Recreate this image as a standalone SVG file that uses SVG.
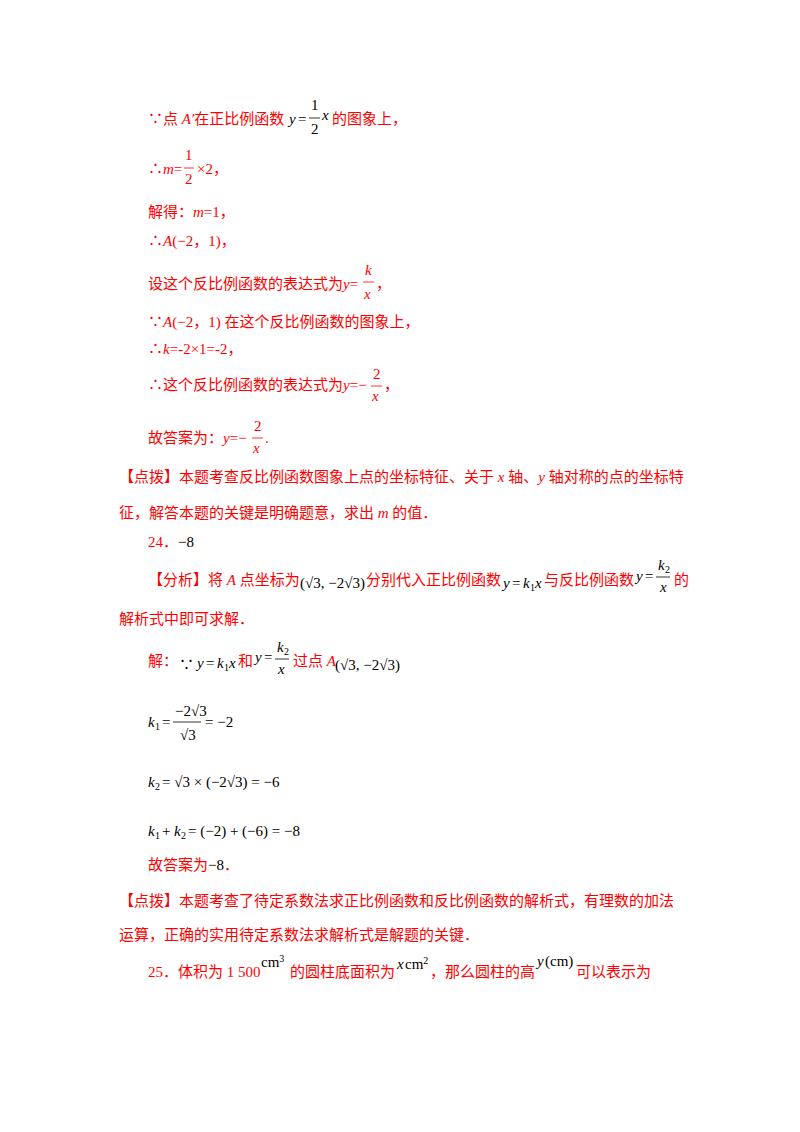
<svg xmlns="http://www.w3.org/2000/svg" width="800" height="1132" viewBox="0 0 800 1132">
<style>
text{font-family:"Liberation Serif","Noto Sans CJK SC",serif;font-size:15px}
.r{fill:#ff0000}
.k{fill:#000}
.i{font-style:italic}
.s{font-size:10px}
line{stroke:#000;stroke-width:0.8}
.rl{stroke:#ff0000}
</style>
<rect width="800" height="1132" fill="#fff"/>
<text class="r" x="148" y="124">∵点 <tspan class="i">A′</tspan>在正比例函数</text>
<text class="k i" x="289" y="124">y</text><text class="k" x="298" y="124">=</text>
<text class="k" x="311" y="110">1</text><line x1="309" y1="118" x2="320" y2="118"/><text class="k" x="311" y="134">2</text>
<text class="k i" x="322" y="120">x</text><text class="r" x="332" y="124">的图象上，</text>

<text class="r" x="148" y="174">∴<tspan class="i">m</tspan>=</text>
<text class="r" x="185" y="160">1</text><line class="rl" x1="184" y1="168" x2="194" y2="168"/><text class="r" x="185" y="184">2</text>
<text class="r" x="197" y="174">×2，</text>

<text class="r" x="148" y="217">解得：<tspan class="i">m</tspan>=1，</text>
<text class="r" x="148" y="246">∴<tspan class="i">A</tspan>(−2，1)，</text>

<text class="r" x="148" y="289">设这个反比例函数的表达式为<tspan class="i">y</tspan>=</text>
<text class="r i" x="365" y="275">k</text><line class="rl" x1="363" y1="282" x2="374" y2="282"/><text class="r i" x="364" y="299">x</text>
<text class="r" x="376" y="289">，</text>

<text class="r" x="148" y="327">∵<tspan class="i">A</tspan>(−2，1) 在这个反比例函数的图象上，</text>
<text class="r" x="148" y="354">∴<tspan class="i">k</tspan>=-2×1=-2，</text>

<text class="r" x="148" y="390">∴这个反比例函数的表达式为<tspan class="i">y</tspan>=−</text>
<text class="r" x="373" y="379">2</text><line class="rl" x1="371" y1="386" x2="382" y2="386"/><text class="r i" x="372" y="401">x</text>
<text class="r" x="384" y="390">，</text>

<text class="r" x="148" y="443">故答案为：<tspan class="i">y</tspan>=−</text>
<text class="r" x="254" y="431">2</text><line class="rl" x1="252" y1="438" x2="263" y2="438"/><text class="r i" x="253" y="453">x</text>
<text class="r" x="265" y="443">.</text>

<text class="r" x="119" y="482">【点拨】本题考查反比例函数图象上点的坐标特征、关于 <tspan class="i">x</tspan> 轴、<tspan class="i">y</tspan> 轴对称的点的坐标特</text>
<text class="r" x="119" y="518">征，解答本题的关键是明确题意，求出 <tspan class="i">m</tspan> 的值．</text>
<text class="r" x="148" y="547">24．<tspan class="k">−8</tspan></text>

<text class="r" x="148" y="585">【分析】将 <tspan class="i">A</tspan> 点坐标为</text>
<text class="k" x="300" y="588">(√3, −2√3)</text>
<text class="r" x="366" y="585">分别代入正比例函数</text>
<text class="k i" x="503" y="588">y</text><text class="k" x="512" y="588">=</text><text class="k i" x="523" y="588">k</text><text class="k s" x="530" y="591">1</text><text class="k i" x="535" y="588">x</text>
<text class="r" x="544" y="585">与反比例函数</text>
<text class="k i" x="636" y="581">y</text><text class="k" x="645" y="581">=</text>
<text class="k i" x="658" y="570">k</text><text class="k s" x="665" y="573">2</text><line x1="656" y1="577" x2="670" y2="577"/><text class="k i" x="660" y="592">x</text>
<text class="r" x="674" y="585">的</text>
<text class="r" x="119" y="624">解析式中即可求解．</text>

<text class="r" x="148" y="666">解：</text>
<text class="k" x="179" y="670">∵</text>
<text class="k i" x="197" y="668">y</text><text class="k" x="206" y="668">=</text><text class="k i" x="217" y="668">k</text><text class="k s" x="224" y="671">1</text><text class="k i" x="229" y="668">x</text>
<text class="r" x="238" y="666">和</text>
<text class="k i" x="255" y="662">y</text><text class="k" x="264" y="662">=</text>
<text class="k i" x="277" y="652">k</text><text class="k s" x="284" y="655">2</text><line x1="275" y1="659" x2="289" y2="659"/><text class="k i" x="278" y="674">x</text>
<text class="r" x="293" y="666">过点 <tspan class="i">A</tspan></text>
<text class="k" x="335" y="670">(√3, −2√3)</text>

<text class="k i" x="148" y="727">k</text><text class="k s" x="155" y="730">1</text><text class="k" x="162" y="727">=</text>
<text class="k" x="175" y="716">−2√3</text><line x1="173" y1="722" x2="201" y2="722"/><text class="k" x="180" y="740">√3</text>
<text class="k" x="205" y="727">= −2</text>

<text class="k i" x="148" y="787">k</text><text class="k s" x="155" y="790">2</text><text class="k" x="162" y="787">= √3 × (−2√3) = −6</text>

<text class="k i" x="148" y="836">k</text><text class="k s" x="155" y="839">1</text><text class="k" x="162" y="836">+</text><text class="k i" x="174" y="836">k</text><text class="k s" x="181" y="839">2</text><text class="k" x="188" y="836">= (−2) + (−6) = −8</text>

<text class="r" x="148" y="870">故答案为<tspan class="k">−8</tspan>．</text>
<text class="r" x="119" y="906">【点拨】本题考查了待定系数法求正比例函数和反比例函数的解析式，有理数的加法</text>
<text class="r" x="119" y="940">运算，正确的实用待定系数法求解析式是解题的关键．</text>

<text class="r" x="148" y="977">25．体积为 1 500</text>
<text class="k" x="261" y="967">cm<tspan class="s" dy="-5">3</tspan></text>
<text class="r" x="290" y="977">的圆柱底面积为</text>
<text class="k i" x="397" y="969">x</text><text class="k" x="405" y="969">cm<tspan class="s" dy="-5">2</tspan></text>
<text class="r" x="430" y="977">，那么圆柱的高</text>
<text class="k i" x="537" y="966">y</text><text class="k" x="545" y="966">(cm)</text>
<text class="r" x="576" y="977">可以表示为</text>
</svg>
